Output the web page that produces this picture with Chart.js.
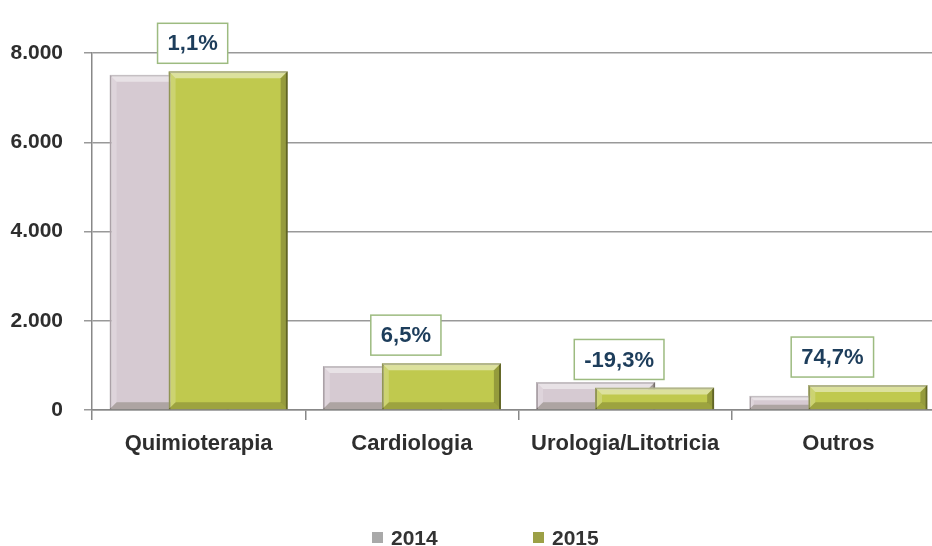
<!DOCTYPE html>
<html>
<head>
<meta charset="utf-8">
<script src="https://cdn.jsdelivr.net/npm/chart.js@4.4.1/dist/chart.umd.min.js"></script>
<style>
  html, body { margin: 0; padding: 0; background: #fff; overflow: hidden; }
  canvas { display: block; }
</style>
</head>
<body>
<canvas id="grafico" width="950" height="546"></canvas>
<script>
// Dados
const categorias = ['Quimioterapia', 'Cardiologia', 'Urologia/Litotricia', 'Outros'];
const valores2014 = [7510, 985, 625, 320];
const valores2015 = [7590, 1050, 505, 559];
const variacoes = ['1,1%', '6,5%', '-19,3%', '74,7%'];
const ticksY = [0, 2000, 4000, 6000, 8000];

const FONTE = "'Liberation Sans', Arial, sans-serif";

// 8000 -> "8.000"
function formatar(v) {
    return String(v).replace(/\B(?=(\d{3})+(?!\d))/g, '.');
}

// Efeito de bisel (barra "3D") por cima de uma barra já desenhada
function bisel(ctx, barra) {
    const { x, y, base, width } = barra.getProps(['x', 'y', 'base', 'width'], true);
    const l = x - width / 2, r = x + width / 2, t = y, b = base;
    const d = Math.min(7, (b - t) / 3);
    const poli = (pts, cor) => {
        ctx.fillStyle = cor;
        ctx.beginPath();
        ctx.moveTo(pts[0][0], pts[0][1]);
        pts.slice(1).forEach(p => ctx.lineTo(p[0], p[1]));
        ctx.closePath();
        ctx.fill();
    };
    poli([[l, t], [r, t], [r - d, t + d], [l + d, t + d]], 'rgba(255,255,255,0.45)');
    poli([[l, t], [l + d, t + d], [l + d, b - d], [l, b]], 'rgba(255,255,255,0.2)');
    poli([[r, t], [r, b], [r - d, b - d], [r - d, t + d]], 'rgba(50,50,20,0.3)');
    poli([[l, b], [r, b], [r - d, b - d], [l + d, b - d]], 'rgba(50,50,20,0.25)');
}

// As barras se sobrepõem: bisel em 2014, depois redesenha 2015 por cima
const barrasEmRelevo = {
    id: 'barrasEmRelevo',
    afterDatasetsDraw(chart) {
        const ctx = chart.ctx;
        ctx.save();
        chart.getDatasetMeta(0).data.forEach(b => bisel(ctx, b));
        chart.getDatasetMeta(1).controller.draw();
        chart.getDatasetMeta(1).data.forEach(b => bisel(ctx, b));
        ctx.restore();
    }
};

// Caixas com a variação percentual acima de cada categoria
const caixasVariacao = {
    id: 'caixasVariacao',
    afterDatasetsDraw(chart) {
        const ctx = chart.ctx;
        const escalaX = chart.scales.x;
        const barras = chart.getDatasetMeta(1).data;
        ctx.save();
        ctx.font = 'bold 22px ' + FONTE;
        ctx.textAlign = 'center';
        ctx.textBaseline = 'middle';
        variacoes.forEach((texto, i) => {
            const cx = escalaX.getPixelForValue(i) - 6;
            const w = ctx.measureText(texto).width + 20;
            const h = 40;
            const base = barras[i].y - 8;
            ctx.fillStyle = '#ffffff';
            ctx.fillRect(cx - w / 2, base - h, w, h);
            ctx.strokeStyle = '#9dbb80';
            ctx.lineWidth = 1.5;
            ctx.strokeRect(cx - w / 2, base - h, w, h);
            ctx.fillStyle = '#1d3d5b';
            ctx.fillText(texto, cx, base - h / 2 + 1);
        });
        ctx.restore();
    }
};

// Legenda embaixo, com os itens bem separados
const legenda = {
    id: 'legenda',
    afterDraw(chart) {
        const ctx = chart.ctx;
        const area = chart.chartArea;
        let x = area.left + 280;
        const y = area.bottom + 135;
        ctx.save();
        ctx.font = 'bold 21px ' + FONTE;
        ctx.textAlign = 'left';
        ctx.textBaseline = 'alphabetic';
        chart.data.datasets.forEach(ds => {
            ctx.fillStyle = ds.corLegenda;
            ctx.fillRect(x, y - 13, 11, 11);
            ctx.fillStyle = '#333333';
            ctx.fillText(ds.label, x + 19, y);
            x += 161;
        });
        ctx.restore();
    }
};

new Chart(document.getElementById('grafico'), {
    type: 'bar',
    data: {
        labels: categorias,
        datasets: [
            {
                label: '2014',
                data: valores2014,
                backgroundColor: '#d6cad2',
                borderColor: '#968a92',
                borderWidth: 2,
                corLegenda: '#a9a9a9',
                categoryPercentage: 0.553,
                barPercentage: 2.02
            },
            {
                label: '2015',
                data: valores2015,
                backgroundColor: '#c0c94e',
                borderColor: '#767b2c',
                borderWidth: 2,
                corLegenda: '#9ca046',
                categoryPercentage: 0.553,
                barPercentage: 2.02
            }
        ]
    },
    options: {
        responsive: false,
        animation: false,
        layout: {
            padding: { top: 53, right: 5, bottom: 90, left: 0 }
        },
        plugins: {
            legend: { display: false },
            tooltip: { enabled: false }
        },
        scales: {
            x: {
                grid: {
                    drawOnChartArea: false,
                    tickLength: 10,
                    color: '#888888',
                    lineWidth: 1.5
                },
                border: { color: '#888888', width: 1.5 },
                ticks: {
                    color: '#2e2e2e',
                    font: { family: FONTE, size: 22, weight: 'bold' },
                    padding: 11,
                    maxRotation: 0,
                    autoSkip: false
                },
                afterFit: s => { s.height = 46; }
            },
            y: {
                min: 0,
                max: 8000,
                afterBuildTicks: s => { s.ticks = ticksY.map(v => ({ value: v })); },
                grid: {
                    color: '#999999',
                    lineWidth: 1.5,
                    tickLength: 8
                },
                border: { color: '#888888', width: 1.5 },
                ticks: {
                    color: '#2e2e2e',
                    font: { family: FONTE, size: 21, weight: 'bold' },
                    padding: 21,
                    callback: v => formatar(v)
                },
                afterFit: s => { s.width = 92; }
            }
        }
    },
    plugins: [barrasEmRelevo, caixasVariacao, legenda]
});
</script>
</body>
</html>
